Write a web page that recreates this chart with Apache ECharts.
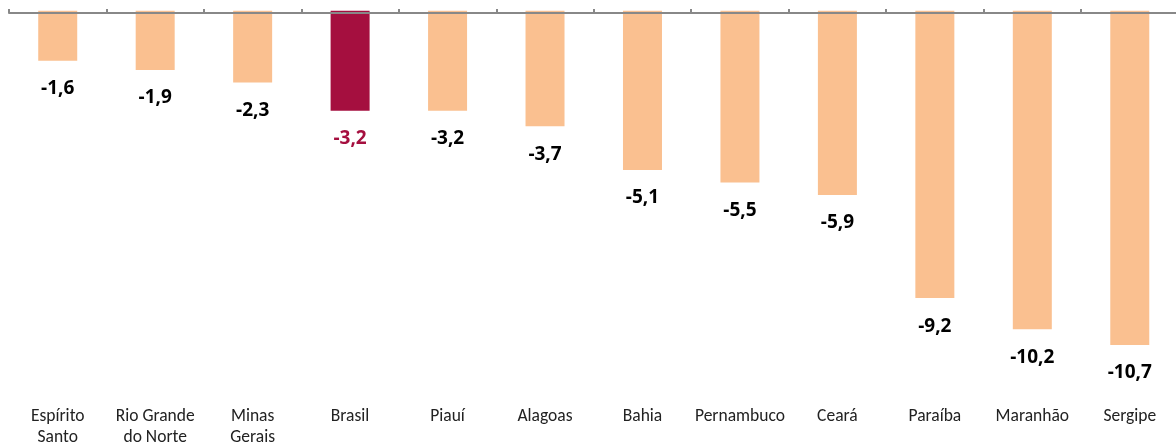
<!DOCTYPE html>
<html>
<head>
<meta charset="utf-8">
<script src="https://cdn.jsdelivr.net/npm/echarts@6/dist/echarts.min.js"></script>
<style>
html,body{margin:0;padding:0;background:#fff;}
#chart{width:1176px;height:446px;}
</style>
</head>
<body>
<div id="chart"></div>
<script>
const categories = ["Espírito\nSanto", "Rio Grande\ndo Norte", "Minas\nGerais", "Brasil", "Piauí", "Alagoas", "Bahia", "Pernambuco", "Ceará", "Paraíba", "Maranhão", "Sergipe"];
const values = [-1.6, -1.9, -2.3, -3.2, -3.2, -3.7, -5.1, -5.5, -5.9, -9.2, -10.2, -10.7];
const highlight = "Brasil";

const FONT = "Carlito, Lato, 'Open Sans', sans-serif";
const VFONT = "'Open Sans', Lato, sans-serif";
const ORANGE = "#FAC090";
const CRIMSON = "#A50F3F";

const chart = echarts.init(document.getElementById('chart'));
chart.setOption({
  animation: false,
  grid: { left: 9, right: -2.5, top: 10.7, bottom: 60.4, containLabel: false, outerBoundsMode: 'none' },
  xAxis: [
    {
      type: 'category', position: 'top', offset: -2.3, data: categories,
      axisLine: { show: true, onZero: false, lineStyle: { color: '#888888', width: 2 } },
      axisTick: { show: true, length: 4, lineStyle: { color: '#888888', width: 2 } },
      axisLabel: { show: false },
      z: 5
    },
    {
      type: 'category', position: 'bottom', data: categories,
      axisLine: { show: false, onZero: false },
      axisTick: { show: false },
      axisLabel: { show: true, color: '#222222', fontSize: 17.5, fontFamily: FONT, lineHeight: 21, margin: 21, interval: 0 }
    }
  ],
  yAxis: { type: 'value', min: -12, max: 0, show: false, splitLine: { show: false } },
  series: [{
    type: 'bar',
    xAxisIndex: 0,
    barWidth: 39,
    data: values.map((v, i) => ({
      value: v,
      itemStyle: { color: categories[i] === highlight ? CRIMSON : ORANGE },
      label: { color: categories[i] === highlight ? CRIMSON : '#000000' }
    })),
    label: {
      show: true, position: 'bottom', distance: 18.5,
      fontSize: 19, fontWeight: 'bold', fontFamily: VFONT,
      formatter: p => String(p.value).replace('.', ',')
    }
  }]
});
</script>
</body>
</html>
